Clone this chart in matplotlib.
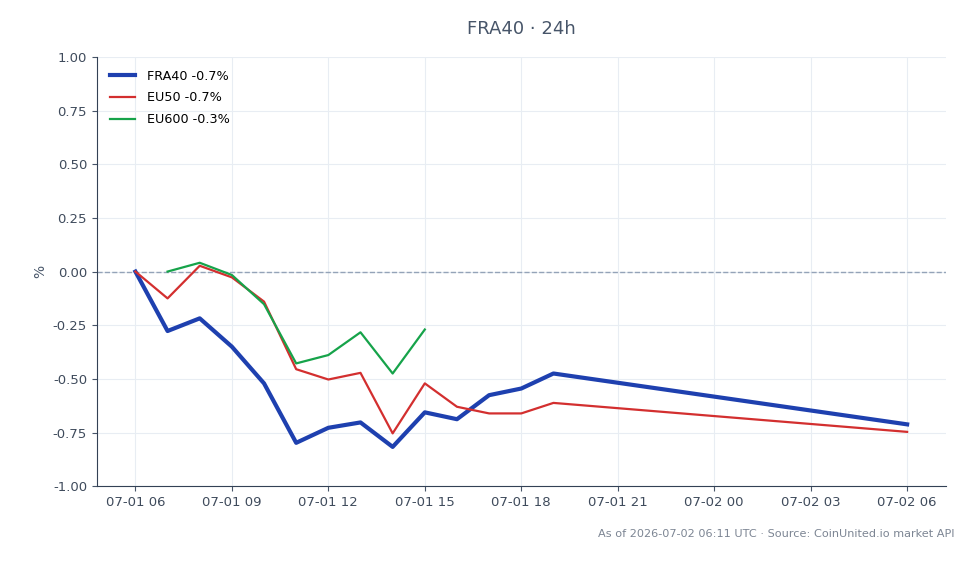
import matplotlib
matplotlib.use("Agg")
import matplotlib.pyplot as plt
import matplotlib.dates as mdates
import pandas as pd

# hourly closes, % change vs first point
times = pd.date_range("2026-07-01 06:00", "2026-07-01 19:00", freq="h").tolist()
times.append(pd.Timestamp("2026-07-02 06:00"))

fra40 = [0.0, -0.277, -0.218, -0.35, -0.521, -0.798, -0.728, -0.703, -0.817, -0.656,
         -0.688, -0.576, -0.545, -0.475, -0.712]
eu50 = [0.0, -0.125, 0.027, -0.027, -0.14, -0.455, -0.503, -0.472, -0.754, -0.521,
        -0.63, -0.661, -0.661, -0.612, -0.747]
eu600_times = times[1:10]
eu600 = [0.0, 0.041, -0.016, -0.152, -0.428, -0.389, -0.283, -0.475, -0.27]

fig, ax = plt.subplots(figsize=(9.78, 5.64), dpi=100)
fig.subplots_adjust(left=0.099, right=0.967, top=0.899, bottom=0.138)

ax.plot(times, fra40, color="#1e40af", lw=3, label="FRA40 -0.7%")
ax.plot(times, eu50, color="#d32f2f", lw=1.6, label="EU50 -0.7%")
ax.plot(eu600_times, eu600, color="#16a34a", lw=1.6, label="EU600 -0.3%")
ax.axhline(0, color="#94a3b8", lw=1, ls="--", zorder=1.5)

ax.set_ylim(-1, 1)
ax.set_yticks([-1, -0.75, -0.5, -0.25, 0, 0.25, 0.5, 0.75, 1])
ax.yaxis.set_major_formatter(plt.FormatStrFormatter("%.2f"))
ax.xaxis.set_major_locator(mdates.HourLocator(byhour=range(0, 24, 3)))
ax.xaxis.set_major_formatter(mdates.DateFormatter("%m-%d %H"))
ax.set_ylabel("%", color="#475569", fontsize=10)

ax.grid(True, color="#e8edf3", lw=0.8)
ax.set_axisbelow(True)
for s in ["top", "right"]:
    ax.spines[s].set_visible(False)
for s in ["left", "bottom"]:
    ax.spines[s].set_color("#334155")
ax.tick_params(colors="#475569", labelsize=9.5)
for lab in ax.get_xticklabels() + ax.get_yticklabels():
    lab.set_color("#3f4b5c")

ax.legend(loc="upper left", frameon=False, fontsize=9.2, labelspacing=0.68,
          handletextpad=0.95, borderaxespad=0.6)
fig.suptitle("FRA40 · 24h", x=0.533, y=0.965, fontsize=13, color="#475569")
fig.text(0.976, 0.047, "As of 2026-07-02 06:11 UTC · Source: CoinUnited.io market API",
         ha="right", fontsize=8.1, color="#7c8593")

fig.savefig("out.png")
